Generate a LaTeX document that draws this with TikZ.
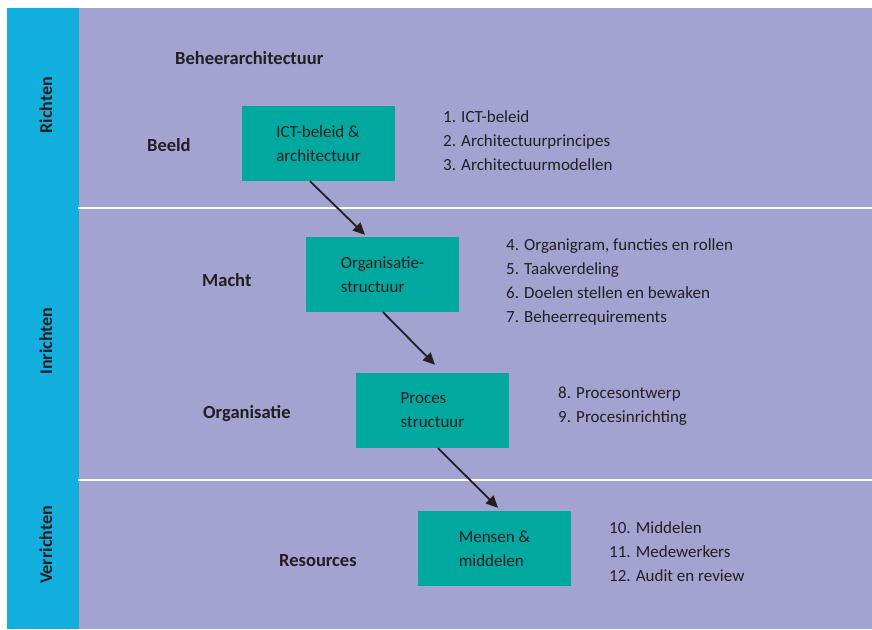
\documentclass[tikz,border=0pt]{standalone}
\usepackage{fontspec}
\setmainfont{Carlito}
\usepackage{xcolor}
\usetikzlibrary{arrows.meta,positioning}
\definecolor{Strook}{HTML}{12AEDE}
\definecolor{Vlak}{HTML}{A3A3D1}
\definecolor{Blok}{HTML}{00A89F}
\definecolor{Inkt}{HTML}{231F20}

\begin{document}
\begin{tikzpicture}[
    x=1pt,y=-1pt,
    font=\fontsize{17}{24}\selectfont,text=Inkt,
    stap/.style={fill=Blok,minimum width=153pt,minimum height=75pt,
      align=left,inner sep=0pt},
    kop/.style={font=\fontsize{18.5}{24}\selectfont\bfseries,anchor=base west,
      inner sep=0pt},
    lijst/.style={align=left,anchor=base west,inner sep=0pt},
    laag/.style={font=\fontsize{18}{24}\selectfont\bfseries,rotate=90,inner sep=0pt},
    pijl/.style={-{Triangle[length=12pt,width=11pt]},line width=1.8pt,draw=Inkt},
    scheiding/.style={draw=white,line width=2pt}
]
\useasboundingbox (0,0) rectangle (872,629);
% vlakken en scheidingslijnen
\fill[Strook] (7,8) rectangle (79,629);
\fill[Vlak] (79,8) rectangle (872,629);
\draw[scheiding] (78,208) -- (872,208);
\draw[scheiding] (78,480) -- (872,480);
% lagen
\node[laag] (richten) at (46,105) {Richten};
\node[laag] (inrichten) at (46,341) {Inrichten};
\node[laag] (verrichten) at (46,545) {Verrichten};
% koppen
\node[kop] (beheer) at (175,64) {Beheerarchitectuur};
\node[kop] (beeld) at (147,151) {Beeld};
\node[kop] (macht) at (202,286) {Macht};
\node[kop] (organisatie) at (203,418) {Organisatie};
\node[kop] (resources) at (279,566) {Resources};
% blokken
\node[stap] (ict) at (318.5,143.5) {ICT-beleid \&\\architectuur};
\node[stap] (org) at (382.5,274.5) {Organisatie-\\structuur};
\node[stap] (proces) at (432.5,410.5) {Proces\\structuur};
\node[stap] (mensen) at (494.5,548.5) {Mensen \&\\middelen};
% lijsten (ankerpunt = basislijn van de laatste regel)
\node[lijst] (beeldlijst) at (443,170) {1. ICT-beleid\\2. Architectuurprincipes\\3. Architectuurmodellen};
\node[lijst] (machtlijst) at (506,322) {4. Organigram, functies en rollen\\5. Taakverdeling\\6. Doelen stellen en bewaken\\7. Beheerrequirements};
\node[lijst] (proceslijst) at (558,422) {8. Procesontwerp\\9. Procesinrichting};
\node[lijst] (mensenlijst) at (609,581) {10. Middelen\\11. Medewerkers\\12. Audit en review};
% pijlen
\draw[pijl] ([xshift=-8.5pt]ict.south) -- ([xshift=-17.5pt,yshift=2pt]org.north);
\draw[pijl] ([xshift=0.5pt]org.south) -- ([xshift=2.5pt,yshift=8pt]proces.north);
\draw[pijl] ([xshift=5.5pt]proces.south) -- ([xshift=3.5pt,yshift=3pt]mensen.north);
\end{tikzpicture}
\end{document}
